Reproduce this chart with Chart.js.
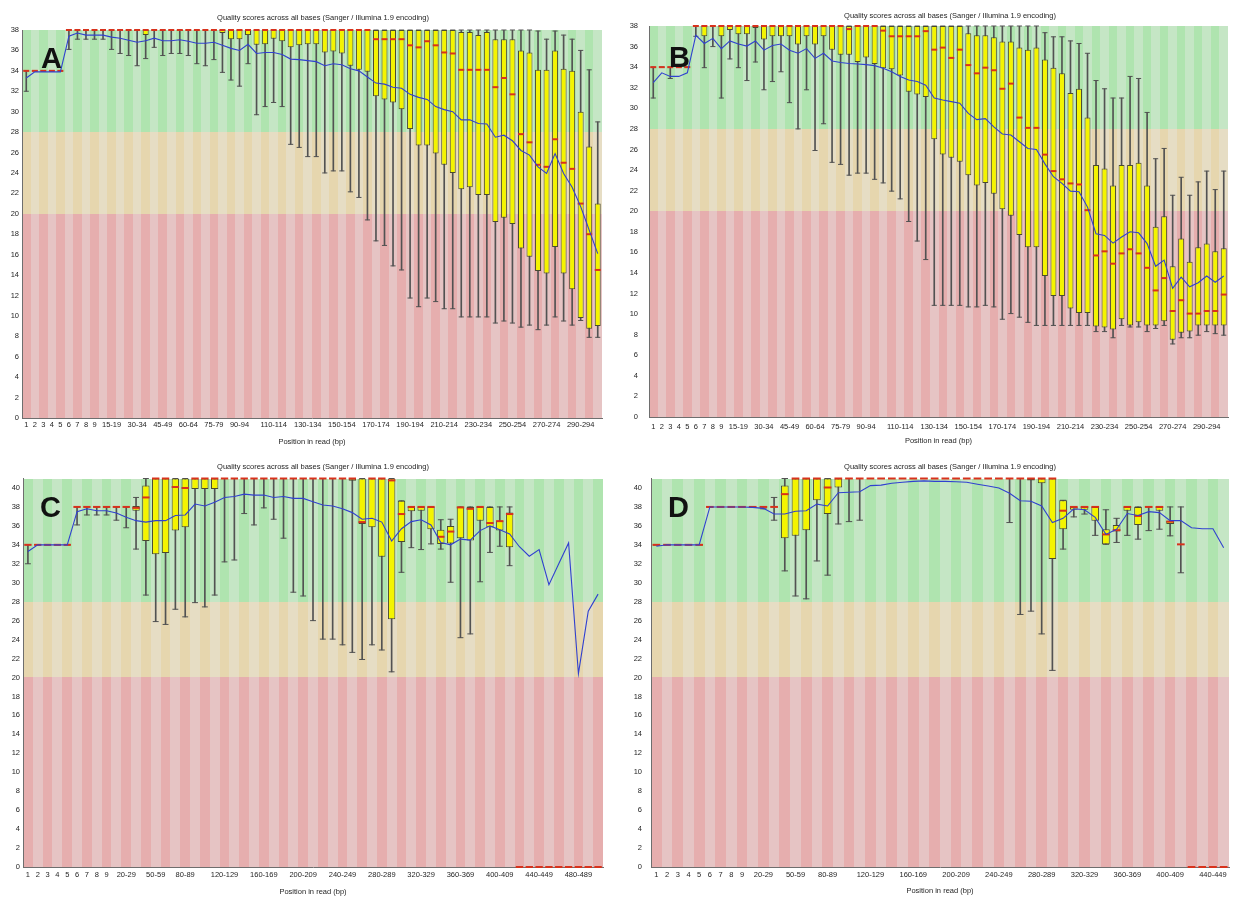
<!DOCTYPE html>
<html>
<head>
<meta charset="utf-8">
<script src="https://cdn.jsdelivr.net/npm/chart.js@4.4.1/dist/chart.umd.min.js"></script>
<style>
  html, body { margin: 0; padding: 0; background: #ffffff; width: 1242px; height: 897px; overflow: hidden; }
  canvas { position: absolute; display: block; }
</style>
</head>
<body>
<canvas id="panelA" width="620" height="450" style="left:0;top:0"></canvas>
<canvas id="panelB" width="622" height="450" style="left:620px;top:0"></canvas>
<canvas id="panelC" width="620" height="447" style="left:0;top:450px"></canvas>
<canvas id="panelD" width="622" height="447" style="left:620px;top:450px"></canvas>
<script>
// ---- position groups (x categories) ----
const positions300 = ['1','2','3','4','5','6','7','8','9',
  '10-14','15-19','20-24','25-29','30-34','35-39','40-44','45-49','50-54','55-59',
  '60-64','65-69','70-74','75-79','80-84','85-89','90-94','95-99','100-104','105-109',
  '110-114','115-119','120-124','125-129','130-134','135-139','140-144','145-149','150-154','155-159',
  '160-164','165-169','170-174','175-179','180-184','185-189','190-194','195-199','200-204','205-209',
  '210-214','215-219','220-224','225-229','230-234','235-239','240-244','245-249','250-254','255-259',
  '260-264','265-269','270-274','275-279','280-284','285-289','290-294','295-299','300-301'];
const positions500 = ['1','2','3','4','5','6','7','8','9',
  '10-19','20-29','30-39','40-49','50-59','60-69','70-79','80-89','90-99','100-109',
  '110-119','120-129','130-139','140-149','150-159','160-169','170-179','180-189','190-199','200-209',
  '210-219','220-229','230-239','240-249','250-259','260-269','270-279','280-289','290-299','300-309',
  '310-319','320-329','330-339','340-349','350-359','360-369','370-379','380-389','390-399','400-409',
  '410-419','420-429','430-439','440-449','450-459','460-469','470-479','480-489','490-499','500-502'];
const positions450 = ['1','2','3','4','5','6','7','8','9',
  '10-19','20-29','30-39','40-49','50-59','60-69','70-79','80-89','90-99','100-109',
  '110-119','120-129','130-139','140-149','150-159','160-169','170-179','180-189','190-199','200-209',
  '210-219','220-229','230-239','240-249','250-259','260-269','270-279','280-289','290-299','300-309',
  '310-319','320-329','330-339','340-349','350-359','360-369','370-379','380-389','390-399','400-409',
  '410-419','420-429','430-439','440-449','450-451'];

// ---- tick labels printed under each x axis ----
const shownTicks300 = ['1','2','3','4','5','6','7','8','9','15-19','30-34','45-49','60-64','75-79','90-94',
  '110-114','130-134','150-154','170-174','190-194','210-214','230-234','250-254','270-274','290-294'];
const shownTicks500 = ['1','2','3','4','5','6','7','8','9','20-29','50-59','80-89','120-129','160-169',
  '200-209','240-249','280-289','320-329','360-369','400-409','440-449','480-489'];
const shownTicks450 = ['1','2','3','4','5','6','7','8','9','20-29','50-59','80-89','120-129','160-169',
  '200-209','240-249','280-289','320-329','360-369','400-409','440-449'];

// ---- sample A: 10th pct, lower quartile, median, upper quartile, 90th pct, mean ----
const lowA = [32,34,34,34,34,36.1,37.1,37.1,37.1,37.1,
  36.1,35.7,35.5,34.5,35.2,36.3,35.5,35.7,35.7,35.5,
  34.7,34.5,35.1,33.85,33.1,32.5,34.7,29.7,30.5,30.9,
  30.5,26.8,26.5,25.6,25.6,24.0,24.2,24.2,22.15,21.6,
  19.4,17.35,16.9,14.9,14.5,11.75,10.9,11.75,11.4,10.7,
  10.7,9.9,9.9,9.9,9.9,9.3,9.5,9.3,8.9,9.1,
  8.65,9.1,9.9,9.5,9.1,9.55,7.9,7.9];
const q1A = [34,34,34,34,34,38,38,38,38,38,
  38,38,38,37.9,37.5,38,38,38,37.9,38,
  38,38,38,37.7,37.1,37.1,37.5,36.55,36.6,37.15,
  36.9,36.3,36.5,36.6,36.6,35.8,35.9,35.7,34.5,34.1,
  33.9,31.5,31.2,30.9,30.25,28.3,26.7,26.7,25.9,24.8,
  24.0,22.4,22.6,21.85,21.85,19.2,19.6,19.0,16.6,15.8,
  14.4,14.15,16.75,14.15,12.6,9.8,8.75,9.0];
const medianA = [34,34,34,34,34,38,38,38,38,38,
  38,38,38,38,38,38,38,38,38,38,
  38,38,38,38,38,38,38,38,38,38,
  38,38,38,38,38,38,38,38,38,38,
  38,37.1,37.1,37.1,37.1,36.5,36.3,36.9,36.5,35.8,
  35.7,34.1,34.1,34.1,34.1,32.4,33.3,31.7,27.8,27.0,
  24.8,24.6,27.3,25.0,24.4,21.0,18.0,14.5];
const q3A = [34,34,34,34,34,38,38,38,38,38,
  38,38,38,38,38,38,38,38,38,38,
  38,38,38,38,38,38,38,38,38,38,
  38,38,38,38,38,38,38,38,38,38,
  38,38,38,38,38,38,38,38,38,38,
  38,37.8,37.8,37.5,37.8,37.1,37.1,37.1,36.0,35.8,
  34.1,34.1,36.0,34.2,34.0,30.0,26.6,21.0];
const highA = [34,34,34,34,34,38,38,38,38,38,
  38,38,38,38,38,38,38,38,38,38,
  38,38,38,38,38,38,38,38,38,38,
  38,38,38,38,38,38,38,38,38,38,
  38,38,38,38,38,38,38,38,38,38,
  38,38,38,38,38,38,38,38,38,38,
  37.9,37.1,37.9,37.5,37.1,36.0,34.1,29.0];
const meanA = [33.3,33.9,33.9,33.9,33.9,37.4,37.7,37.5,37.5,37.5,
  37.3,37.2,37.0,36.8,36.95,37.2,36.95,36.95,37.05,36.9,
  36.7,36.7,36.8,36.5,36.2,36.0,36.6,35.7,35.8,35.8,
  35.6,35.15,35.1,35.0,34.9,34.5,34.7,34.6,34.2,34.0,
  33.4,32.8,32.7,32.4,32.3,31.7,31.4,31.2,30.5,30.2,
  30.0,29.2,29.2,28.85,28.8,27.5,27.7,27.15,26.2,25.75,
  24.6,23.95,25.9,23.95,22.6,20.7,18.4,16.1];

// ---- sample B ----
const lowB = [31.0,34,32.9,34,34,37.0,33.95,36.0,31.0,34.8,
  33.95,32.7,34.5,31.8,32.6,33.55,30.55,28.0,31.8,25.9,
  28.5,24.75,24.55,23.5,23.7,23.7,23.1,22.75,21.95,21.2,
  19.0,17.1,15.3,10.85,10.85,10.85,10.85,10.7,10.7,10.85,
  10.7,9.5,10.05,9.7,9.2,8.9,8.9,8.9,8.9,8.9,
  8.9,8.9,8.3,8.3,7.7,8.9,8.75,8.75,8.3,8.6,
  8.9,7.1,7.7,7.7,7.95,8.3,8.1,7.95];
const q1B = [34,34,34,34,34,38,37.0,38,37.0,37.6,
  37.2,37.2,37.8,36.7,37.0,37.0,37.0,36.2,37.0,36.2,
  37.0,35.7,35.2,35.2,34.5,34.95,34.3,33.9,33.8,33.2,
  31.6,31.35,31.1,27.0,25.5,25.2,24.8,23.5,22.5,22.75,
  21.7,20.2,19.55,17.7,16.5,16.5,13.7,11.75,11.75,10.55,
  10.1,10.1,8.8,8.7,8.5,9.5,8.9,9.2,8.9,8.9,
  9.3,7.5,8.2,8.3,8.9,8.9,8.9,8.9];
const medianB = [34,34,34,34,34,38,38,38,38,38,
  38,38,38,38,38,38,38,38,38,38,
  38,38,38,37.7,38,38,38,37.55,37.0,37.0,
  37.0,37.0,37.5,35.7,35.9,34.9,35.7,34.2,33.4,33.95,
  33.7,31.9,32.4,29.1,28.1,28.1,25.5,23.9,23.1,22.7,
  22.6,20.1,15.7,16.1,14.9,15.9,16.3,15.9,14.5,12.3,
  13.5,10.3,11.35,10.05,10.05,10.3,10.3,11.9];
const q3B = [34,34,34,34,34,38,38,38,38,38,
  38,38,38,38,38,38,38,38,38,38,
  38,38,38,38,38,38,38,38,38,38,
  38,38,38,38,38,38,38,37.3,37.1,37.1,
  36.9,36.5,36.5,35.9,35.7,35.9,34.75,33.95,33.4,31.5,
  31.9,29.1,24.5,24.15,22.5,24.5,24.5,24.7,22.5,18.5,
  19.5,14.65,17.35,15.1,16.5,16.85,16.1,16.4];
const highB = [34,34,34,34,34,38,38,38,38,38,
  38,38,38,38,38,38,38,38,38,38,
  38,38,38,38,38,38,38,38,38,38,
  38,38,38,38,38,38,38,38,38,38,
  38,38,38,38,38,38,37.35,36.95,36.95,36.55,
  36.3,35.35,32.7,31.9,31.0,31.0,33.1,32.9,29.6,25.1,
  26.1,21.55,23.3,21.55,22.85,23.9,22.1,23.9];
const meanB = [32.5,33.45,33.1,33.1,33.45,37.1,36.3,36.8,35.8,36.55,
  36.25,36.05,36.55,35.65,36.1,36.25,35.65,35.35,35.8,34.85,
  35.35,34.6,34.45,34.35,34.3,34.25,34.15,33.9,33.55,33.1,
  32.75,32.6,32.25,31.0,30.8,30.65,30.5,29.5,28.9,29.0,
  28.2,27.5,27.4,26.75,26.1,26.0,24.6,23.35,22.7,21.95,
  21.9,20.4,17.8,17.65,16.9,17.5,18.0,17.9,16.85,14.65,
  15.25,12.5,13.6,12.65,13.05,13.7,13.1,13.7];

// ---- sample C ----
const lowC = [32,34,34,34,34,36.1,37.15,37.15,37.15,36.6,
  35.8,33.55,28.7,25.9,25.6,27.2,26.4,27.9,27.45,28.7,
  32.2,32.4,37.3,36.1,37.9,36.7,34.7,29.0,28.6,26.0,
  24.05,24.05,23.45,22.65,21.9,23.45,22.9,20.6,31.1,33.7,
  33.5,34.1,33.55,30.05,24.2,24.6,30.1,33.2,33.85,31.8,
  0,0,0,0,0,0,0,0,0];
const q1C = [34,34,34,34,34,38,38,38,38,38,
  38,37.6,34.4,33.0,33.15,35.5,35.85,39.9,39.9,39.9,
  41,41,41,41,41,41,41,41,41,41,
  41,41,41,40.75,36.2,35.85,32.75,26.15,34.3,37.55,
  37.6,35.65,34.1,34.15,34.7,34.45,36.55,35.85,35.5,33.75,
  0,0,0,0,0,0,0,0,0];
const medianC = [34,34,34,34,34,38,38,38,38,38,
  38,37.9,39.0,41,41,40.1,40.0,41,41,41,
  41,41,41,41,41,41,41,41,41,41,
  41,41,41,41,36.4,41,41,40.8,37.25,38,
  38,38,34.85,35.4,37.95,37.8,38,36.3,36.5,37.25,
  0,0,0,0,0,0,0,0,0];
const q3C = [34,34,34,34,34,38,38,38,38,38,
  38,38.1,40.25,41,41,41,41,41,41,41,
  41,41,41,41,41,41,41,41,41,41,
  41,41,41,41,41,41,41,41,38.65,38,
  38,38,35.6,36.0,38,38,38,38,36.55,37.4,
  0,0,0,0,0,0,0,0,0];
const highC = [34,34,34,34,34,38,38,38,38,38,
  38,39.0,41,41,41,41,41,41,41,41,
  41,41,41,41,41,41,41,41,41,41,
  41,41,41,41,41,41,41,41,38.65,38,
  38,38,36.65,36.7,38,38,38,38,38,38,
  0,0,0,0,0,0,0,0,0];
const meanC = [33.3,34,34,34,34,37.5,37.8,37.6,37.6,37.35,
  36.9,36.55,36.4,36.55,36.55,37.1,37.15,38.3,38.1,38.5,
  39.0,39.1,39.35,39.25,39.25,39.0,39.1,38.9,38.9,38.55,
  38.2,38.1,37.8,37.4,36.7,36.8,36.4,34.4,35.7,36.45,
  36.65,36.1,34.25,34.0,34.6,34.5,35.5,36.0,35.6,35.15,
  33.8,32.8,33.5,29.8,32.0,34.2,20.4,27.0,28.8];

// ---- sample D ----
const lowD = [34,34,34,34,34,38,38,38,38,38,
  37.8,36.6,31.25,28.6,28.3,32.3,30.8,36.2,36.45,36.6,
  41,41,41,41,41,41,41,41,41,41,
  41,41,41,36.35,26.65,27.0,24.6,20.75,33.55,36.95,
  37.25,35.0,34.05,34.25,35.0,34.6,35.5,35.65,34.95,31.05,
  0,0,0,0];
const q1D = [34,34,34,34,34,38,38,38,38,38,
  38,38,34.7,34.95,35.55,38.7,37.25,40.05,41,41,
  41,41,41,41,41,41,41,41,41,41,
  41,41,41,41,41,40.8,40.5,32.5,35.65,37.7,
  37.7,36.55,34.05,35.4,37.6,36.1,38,37.6,36.2,34.05,
  0,0,0,0];
const medianD = [34,34,34,34,34,38,38,38,38,38,
  38,38,39.35,41,41,41,40.05,41,41,41,
  41,41,41,41,41,41,41,41,41,41,
  41,41,41,41,41,41,41,41,37.6,38,
  38,38,35.1,35.55,38,37.05,38,38,36.45,34.05,
  0,0,0,0];
const q3D = [34,34,34,34,34,38,38,38,38,38,
  38,38,40.25,41,41,41,41,41,41,41,
  41,41,41,41,41,41,41,41,41,41,
  41,41,41,41,41,41,41,41,38.7,38,
  38,38,35.65,36.1,38,38,38,38,36.55,34.05,
  0,0,0,0];
const highD = [34,34,34,34,34,38,38,38,38,38,
  38,39.0,41,41,41,41,41,41,41,41,
  41,41,41,41,41,41,41,41,41,41,
  41,41,41,41,41,41,41,41,38.7,38,
  38,38,37.7,36.8,38,38,38,38,38,38,
  0,0,0,0];
const meanD = [33.85,34,34,34,34,38.0,38.0,38.0,38.0,37.95,
  37.85,37.25,37.25,37.55,37.6,38.3,38.1,39.5,39.55,39.6,
  40.25,40.3,40.5,40.6,40.7,40.75,40.7,40.7,40.65,40.6,
  40.4,40.2,40.0,39.45,38.65,38.6,38.1,36.35,36.8,37.8,
  37.7,36.9,35.1,35.65,37.3,37.1,37.5,37.4,36.55,36.55,
  35.8,35.7,35.7,33.7];

// ---- styling ----
const FONT = "'Liberation Sans', Arial, sans-serif";
const TEXT = '#1e1e1e';
const AXIS = '#6e6e6e';
const BOX_FILL = '#f4f400';
const BOX_EDGE = '#4a4a30';
const WHISKER = '#525252';
const MEDIAN = '#d8321c';
const MEAN = '#3040d0';
const CHART_TITLE = 'Quality scores across all bases (Sanger / Illumina 1.9 encoding)';
const X_TITLE = 'Position in read (bp)';
// quality bands: [from, to, even stripe, odd stripe]
const BANDS = [
  [28, null, 'rgb(175,228,175)', 'rgb(197,230,197)'],
  [20, 28, 'rgb(230,214,174)', 'rgb(230,221,196)'],
  [0, 20, 'rgb(230,174,174)', 'rgb(230,196,196)']
];

Chart.defaults.font.family = FONT;
Chart.defaults.color = TEXT;

// striped quality bands behind the boxes, plus the chart heading and panel letter
const panelDecor = {
  id: 'panelDecor',
  beforeDraw(chart, args, opts) {
    const { ctx, chartArea: a, scales: { x, y } } = chart;
    const n = chart.data.labels.length;
    const step = (a.right - a.left) / n;
    ctx.save();
    for (let i = 0; i < n; i++) {
      const c = x.getPixelForValue(i);
      const x0 = Math.round(c - step / 2), x1 = Math.round(c + step / 2);
      BANDS.forEach(([lo, hi, even, odd]) => {
        const top = hi === null ? a.top : y.getPixelForValue(hi);
        const bot = y.getPixelForValue(lo);
        ctx.fillStyle = i % 2 === 0 ? even : odd;
        ctx.fillRect(x0, Math.round(top), x1 - x0, Math.round(bot) - Math.round(top));
      });
    }
    ctx.fillStyle = TEXT;
    ctx.font = '7.5px ' + FONT;
    ctx.textAlign = 'center';
    ctx.textBaseline = 'middle';
    ctx.fillText(CHART_TITLE, opts.titleX, opts.titleY);
    ctx.restore();
  },
  afterDraw(chart, args, opts) {
    const { ctx } = chart;
    ctx.save();
    ctx.fillStyle = '#111';
    ctx.font = 'bold 29px ' + FONT;
    ctx.textAlign = 'left';
    ctx.textBaseline = 'alphabetic';
    ctx.fillText(opts.letter, opts.letterX, opts.letterY);
    ctx.restore();
  }
};

function drawPanel(id, p) {
  const boxes = p.q1.map((v, i) => (v === p.q3[i] ? null : [v, p.q3[i]]));
  const whiskers = p.low.map((v, i) => (v === p.high[i] ? null : [v, p.high[i]]));
  const step = (p.chartRight - p.yWidth) / p.labels.length;
  const medR = step * p.boxFrac / 2;
  const capR = step * 0.3;
  const pointSet = (data, color, r, w, order) => ({
    type: 'line', data, showLine: false, pointStyle: 'line',
    pointRadius: r, pointHoverRadius: r, pointBorderColor: color, pointBackgroundColor: color,
    pointBorderWidth: w, borderColor: color, borderWidth: w, order, clip: false
  });
  return new Chart(document.getElementById(id), {
    type: 'bar',
    data: {
      labels: p.labels,
      datasets: [
        { type: 'line', data: p.mean, borderColor: MEAN, borderWidth: 1.1, pointRadius: 0,
          tension: 0, fill: false, order: 0 },
        pointSet(p.median, MEDIAN, medR, 2, 1),
        { data: boxes, backgroundColor: BOX_FILL, borderColor: BOX_EDGE, borderWidth: 1,
          borderSkipped: false, barPercentage: p.boxFrac, categoryPercentage: 1, grouped: false, order: 2 },
        pointSet(p.low, WHISKER, capR, 1, 3),
        pointSet(p.high, WHISKER, capR, 1, 3),
        { data: whiskers, backgroundColor: WHISKER, barThickness: 1, grouped: false, order: 4 }
      ]
    },
    options: {
      responsive: false,
      animation: false,
      events: [],
      layout: { padding: { left: 0, top: p.top, right: p.right, bottom: 0 } },
      plugins: {
        legend: { display: false },
        tooltip: { enabled: false },
        panelDecor: { letter: p.letter, letterX: p.letterX, letterY: p.letterY, titleX: p.titleX, titleY: p.titleY }
      },
      scales: {
        x: {
          offset: true,
          afterFit: s => { s.height = p.xHeight; },
          grid: { display: false, drawTicks: false },
          border: { display: true, color: AXIS, width: 1 },
          ticks: {
            autoSkip: false, maxRotation: 0, minRotation: 0, padding: p.xPad, color: TEXT,
            font: { size: 7.5 },
            callback(v) { const l = this.getLabelForValue(v); return p.shown.includes(l) ? l : ''; }
          },
          title: { display: true, text: X_TITLE, color: TEXT, font: { size: 7.5 },
                   padding: { top: 0, bottom: p.titlePad } }
        },
        y: {
          min: 0, max: p.yMax,
          afterFit: s => { s.width = p.yWidth; },
          grid: { display: false, drawTicks: false },
          border: { display: true, color: AXIS, width: 1 },
          ticks: { stepSize: 2, padding: p.yPad, color: TEXT, font: { size: 7.5 },
                   callback: v => (v % 2 === 0 ? v : '') }
        }
      }
    },
    plugins: [panelDecor]
  });
}

drawPanel('panelA', {
  labels: positions300, shown: shownTicks300,
  low: lowA, q1: q1A, median: medianA, q3: q3A, high: highA, mean: meanA,
  yMax: 38, yWidth: 22, yPad: 3, top: 30, right: 18, chartRight: 602, xHeight: 32, xPad: 2, titlePad: 3.5,
  boxFrac: 0.7, letter: 'A', letterX: 41, letterY: 68, titleX: 323, titleY: 18
});
drawPanel('panelB', {
  labels: positions300, shown: shownTicks300,
  low: lowB, q1: q1B, median: medianB, q3: q3B, high: highB, mean: meanB,
  yMax: 38, yWidth: 29, yPad: 11, top: 26, right: 14, chartRight: 608, xHeight: 33, xPad: 5.5, titlePad: 4.5,
  boxFrac: 0.7, letter: 'B', letterX: 49, letterY: 67, titleX: 330, titleY: 15.5
});
drawPanel('panelC', {
  labels: positions500, shown: shownTicks500,
  low: lowC, q1: q1C, median: medianC, q3: q3C, high: highC, mean: meanC,
  yMax: 41, yWidth: 23, yPad: 3, top: 28.5, right: 17, chartRight: 603, xHeight: 30, xPad: 3.5, titlePad: 0.8,
  boxFrac: 0.75, letter: 'C', letterX: 40, letterY: 67, titleX: 323, titleY: 16.7
});
drawPanel('panelD', {
  labels: positions450, shown: shownTicks450,
  low: lowD, q1: q1D, median: medianD, q3: q3D, high: highD, mean: meanD,
  yMax: 41, yWidth: 31, yPad: 9, top: 28.5, right: 13, chartRight: 609, xHeight: 30, xPad: 3.5, titlePad: 1.8,
  boxFrac: 0.72, letter: 'D', letterX: 48, letterY: 67, titleX: 330, titleY: 16.7
});
</script>
</body>
</html>
